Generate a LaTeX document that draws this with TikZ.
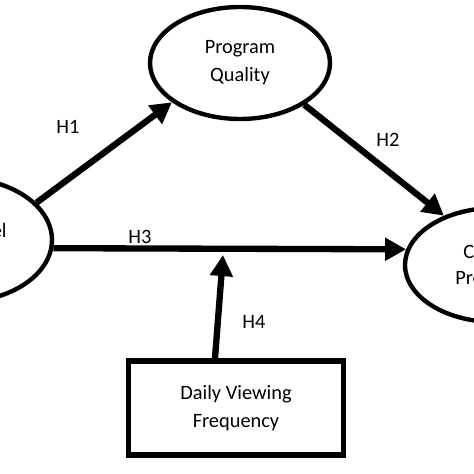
\documentclass[tikz,border=0pt]{standalone}
\usepackage{fontspec}
\setmainfont{Carlito}
\usetikzlibrary{arrows.meta}
\usetikzlibrary{shapes}
\begin{document}
\begin{tikzpicture}[x=0.02cm, y=-0.02cm, >={Triangle[length=12pt, width=12.5pt]},
latent/.style={ellipse, draw, line width=2.5pt, inner sep=0, align=center},
observed/.style={rectangle, draw, line width=2.9pt, inner sep=0, align=center},
path/.style={->, line width=3.6pt},
hyp/.style={inner sep=1pt},
every node/.style={font=\fontsize{11.6}{16}\selectfont}]
%%%%%%%% SIZE OF THE PICTURE %%%%%%%%
\useasboundingbox (0,0) rectangle (474,474);
%%%%%%%%%%%%%%%%%%%%%%% KONSTRUKTUMOK %%%%%%%%%%%%%%%%%%%%%%%%%%%
\node[latent, minimum width=3.68cm, minimum height=2.48cm] (LV) at (-40,240) {};
\node[latent, minimum width=3.6cm, minimum height=2.24cm] (PQ) at (240,63) {Program\\Quality};
\node[latent, minimum width=3.6cm, minimum height=2.28cm] (CP) at (495,265) {};
\node[observed, minimum width=4.3cm, minimum height=1.88cm] (DVF) at (236,408) {Daily Viewing\\Frequency};
%%%%%%%% TEXT (cut by the edge) %%%%%%%%
\node[anchor=east, inner sep=0] (LVtext) at (7,230) {el};
\node[anchor=west, inner sep=0] (CPtextA) at (463,252) {C};
\node[anchor=west, inner sep=0] (CPtextB) at (455,278) {Pre};
%%%%%%%% PATHS %%%%%%%%
\coordinate (H3mid) at (223,255);
\draw[path] (LV.26) -- (PQ.210);
\draw[path] (PQ.-33) -- (CP.136);
\draw[path] (LV.-5) -- (CP.170);
\draw[path] (DVF.113) -- (H3mid);
%%%%%%%% HYPOTHESES %%%%%%%%
\node[hyp] (H1) at (68,127) {H1};
\node[hyp] (H2) at (388,140) {H2};
\node[hyp] (H3) at (140,237) {H3};
\node[hyp] (H4) at (254,322) {H4};
\end{tikzpicture}
\end{document}
